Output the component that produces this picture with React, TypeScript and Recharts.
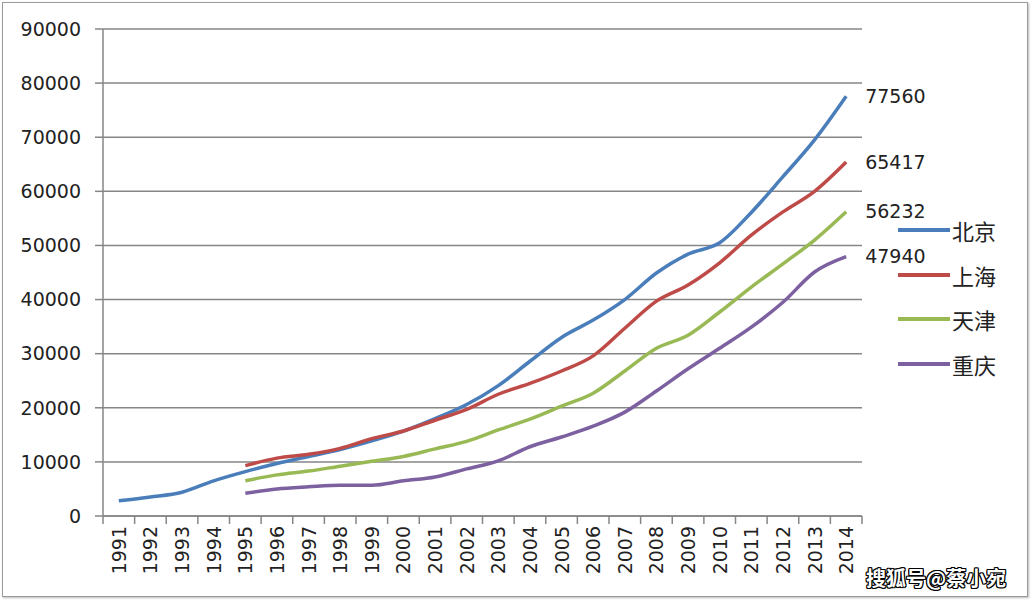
import { LineChart, Line, XAxis, YAxis, CartesianGrid, LabelList } from 'recharts'

const years = [
  '1991', '1992', '1993', '1994', '1995', '1996', '1997', '1998', '1999', '2000', '2001', '2002',
  '2003', '2004', '2005', '2006', '2007', '2008', '2009', '2010', '2011', '2012', '2013', '2014',
]

const beijing = [
  2800, 3500, 4400, 6500, 8200, 9700, 11000, 12300, 13900, 15700, 18000, 20600,
  24100, 28600, 33000, 36200, 40000, 44900, 48400, 50500, 56100, 62700, 69500, 77560,
]
const shanghai = [
  null, null, null, null, 9300, 10700, 11400, 12500, 14300, 15700, 17700, 19700,
  22500, 24500, 26800, 29600, 34700, 39700, 42700, 46800, 51900, 56200, 60000, 65417,
]
const tianjin = [
  null, null, null, null, 6500, 7600, 8300, 9200, 10100, 11000, 12400, 13800,
  15900, 17900, 20300, 22700, 26800, 31000, 33400, 37700, 42300, 46600, 51000, 56232,
]
const chongqing = [
  null, null, null, null, 4200, 5000, 5400, 5700, 5700, 6500, 7200, 8700,
  10200, 12800, 14600, 16600, 19200, 23100, 27200, 31000, 34900, 39500, 45100, 47940,
]

const yTicks = [0, 10000, 20000, 30000, 40000, 50000, 60000, 70000, 80000, 90000]

const series = [
  { key: 'bj', name: '北京', color: '#4A7EBB', values: beijing },
  { key: 'sh', name: '上海', color: '#BE4B48', values: shanghai },
  { key: 'tj', name: '天津', color: '#98B954', values: tianjin },
  { key: 'cq', name: '重庆', color: '#7D60A0', values: chongqing },
]

const data = years.map((year, i) => {
  const row: Record<string, any> = { year }
  series.forEach((s) => { row[s.key] = s.values[i] })
  return row
})

const PLOT_LEFT = 103
const PLOT_RIGHT = 862
const BAND = (PLOT_RIGHT - PLOT_LEFT) / years.length
const FONT = '"DejaVu Sans", Verdana, sans-serif'
const AXIS_COLOR = '#868686'

const YearTick = (props: any) => {
  const { x, y, payload, index } = props
  const left = x - BAND / 2
  return (
    <g>
      <line x1={left} y1={y} x2={left} y2={y + 8} stroke={AXIS_COLOR} strokeWidth={1.5} />
      {index === years.length - 1 && (
        <line x1={x + BAND / 2} y1={y} x2={x + BAND / 2} y2={y + 8} stroke={AXIS_COLOR} strokeWidth={1.5} />
      )}
      <text
        transform={`translate(${x + 7},${y + 10}) rotate(-90)`}
        textAnchor="end"
        fontSize={19}
        fontFamily={FONT}
        fill="#222"
      >
        {payload.value}
      </text>
    </g>
  )
}

const endLabel = (props: any) => {
  const { x, y, value, index } = props
  if (index !== years.length - 1 || value == null) return <g />
  return (
    <text x={x + 19} y={y} dy="0.355em" fontSize={19} fontFamily={FONT} fill="#222">
      {value}
    </text>
  )
}

const App = () => {
  return (
    <div style={{ position: 'absolute', left: 0, top: 0, width: 1032, height: 600, background: '#fff' }}>
      <div
        style={{
          position: 'absolute', left: 2, top: 2, width: 1024, height: 593,
          border: '1px solid #9a9a9a', boxShadow: '1px 1px 2px #bbb',
        }}
      />
      <LineChart
        width={1032}
        height={600}
        data={data}
        margin={{ top: 29, right: 1032 - PLOT_RIGHT, bottom: 0, left: 8 }}
        style={{ position: 'absolute', left: 0, top: 0 }}
      >
        <CartesianGrid vertical={false} stroke={AXIS_COLOR} strokeWidth={1.5} />
        <XAxis
          dataKey="year"
          scale="point"
          padding={{ left: BAND / 2, right: BAND / 2 }}
          interval={0}
          height={84}
          tickSize={0}
          tickMargin={0}
          tickLine={false}
          tick={<YearTick />}
          stroke={AXIS_COLOR}
          strokeWidth={1.5}
        />
        <YAxis
          width={95}
          domain={[0, 90000]}
          ticks={yTicks}
          interval={0}
          tickSize={8}
          tickMargin={14}
          stroke={AXIS_COLOR}
          strokeWidth={1.5}
          tick={{ fontSize: 19, fontFamily: FONT, fill: '#222' }}
        />
        {series.map((s) => (
          <Line
            key={s.key}
            dataKey={s.key}
            name={s.name}
            type="monotone"
            stroke={s.color}
            strokeWidth={3.5}
            dot={false}
            activeDot={false}
            isAnimationActive={false}
          >
            <LabelList dataKey={s.key} content={endLabel} />
          </Line>
        ))}
      </LineChart>
      <div style={{ position: 'absolute', left: 898, top: 208 }}>
        {series.map((s) => (
          <div key={s.key} style={{ display: 'flex', alignItems: 'center', height: 44.5 }}>
            <div style={{ width: 52, height: 4, background: s.color }} />
            <span
              style={{
                fontFamily: '"Noto Sans CJK SC", sans-serif', fontSize: 22, color: '#222',
                marginLeft: 2, lineHeight: '44px',
              }}
            >
              {s.name}
            </span>
          </div>
        ))}
      </div>
      <div
        style={{
          position: 'absolute', left: 866, top: 563, fontFamily: '"Noto Sans CJK SC", sans-serif',
          fontSize: 20, fontWeight: 700, color: '#fff',
          textShadow: '1px 0 0 #000, -1px 0 0 #000, 0 1px 0 #000, 0 -1px 0 #000, 1px 1px 0 #000, -1px -1px 0 #000, 1px -1px 0 #000, -1px 1px 0 #000',
        }}
      >
        搜狐号@蔡小宛
      </div>
    </div>
  )
}

export default App
